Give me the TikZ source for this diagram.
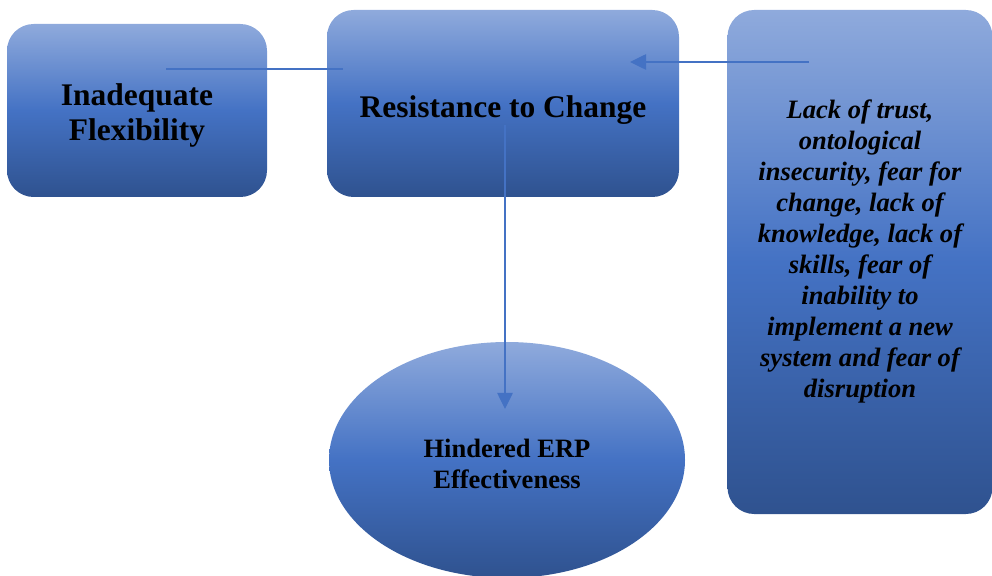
\documentclass[tikz,border=0pt]{standalone}
\usepackage{fontspec}
\setmainfont{Liberation Serif}
\usetikzlibrary{arrows.meta,positioning,shapes.geometric}
\definecolor{BoxTop}{HTML}{8FAADC}
\definecolor{BoxMid}{HTML}{4472C4}
\definecolor{BoxBot}{HTML}{2F528F}
\definecolor{Link}{HTML}{4472C4}
\tikzset{
  grad/.style={top color=BoxTop,bottom color=BoxBot,middle color=BoxMid,draw=none,inner sep=0pt,outer sep=0pt},
  rbox/.style={grad,rectangle,rounded corners=20pt},
  oval/.style={grad,ellipse},
  big/.style={align=center,font=\fontsize{23.6}{26.3}\selectfont\bfseries},
  small/.style={align=center,font=\fontsize{19.9}{23.6}\selectfont\bfseries},
  note/.style={align=center,font=\fontsize{19.9}{23.3}\selectfont\bfseries\itshape},
  link/.style={draw=Link,line width=1.1pt},
  flow/.style={link,-{Triangle[length=12pt,width=11.5pt]}},
}

\begin{document}
\begin{tikzpicture}[x=.75pt,y=.75pt]
\useasboundingbox (0,0) rectangle (992,575);
% boxes
\node[rbox,minimum width=195pt,minimum height=129.75pt] (flex) at (137,464.5) {};
\node[rbox,minimum width=264pt,minimum height=140.25pt] (resist) at (503,471.5) {};
\node[rbox,minimum width=198.75pt,minimum height=378pt] (cause) at (860,313) {};
\node[oval,minimum width=267pt,minimum height=177pt] (effect) at (507,115) {};
% texts, set a little below the centres
\node[big] (flextext) at ([yshift=-4]flex.center) {Inadequate\\Flexibility};
\node[big] (resisttext) at ([yshift=-5]resist.center) {Resistance to Change};
\node[note] (causetext) at ([yshift=8]cause.center) {Lack of trust,\\ontological\\insecurity, fear for\\change, lack of\\knowledge, lack of\\skills, fear of\\inability to\\implement a new\\system and fear of\\disruption};
\node[small] (effecttext) at ([yshift=-3]effect.center) {Hindered ERP\\Effectiveness};
% connectors
\draw[link] ([shift={(29,41.5)}]flex.center) -- ([shift={(16,34.5)}]resist.west);
\draw[flow] ([shift={(-51,200)}]cause.center) -- ([shift={(-49,41.5)}]resist.east);
\draw[flow] ([shift={(2,-21.5)}]resist.center) -- ([shift={(-2,51)}]effect.center);
\end{tikzpicture}
\end{document}
